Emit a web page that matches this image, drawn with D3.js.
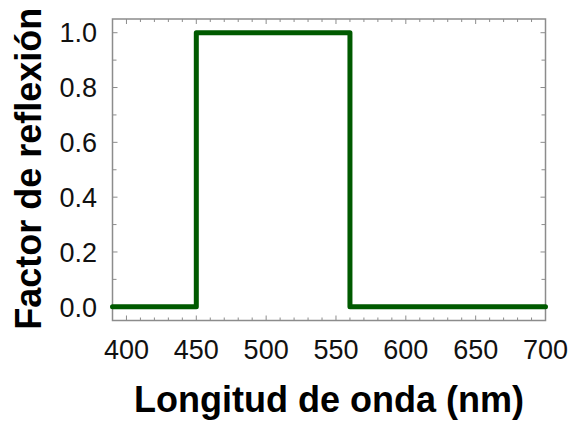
<!DOCTYPE html>
<html>
<head>
<meta charset="utf-8">
<script src="https://cdn.jsdelivr.net/npm/d3@7"></script>
<style>
  html, body { margin: 0; padding: 0; background: #fff; }
  svg { display: block; }
</style>
</head>
<body>
<svg id="chart" width="573" height="422"></svg>
<script>
// Data
const wavelength = [390, 450, 450, 560, 560, 700];
const reflectance = [0, 0, 1, 1, 0, 0];
const xTickLabels = [400, 450, 500, 550, 600, 650, 700];
const yTickLabels = [0.0, 0.2, 0.4, 0.6, 0.8, 1.0];
const xTitle = "Longitud de onda (nm)";
const yTitle = "Factor de reflexión";

const svg = d3.select("#chart");
const m = { left: 112.5, right: 545.5, top: 19, bottom: 320.5 };
const x = d3.scaleLinear().domain([390, 700]).range([m.left, m.right]);
const y = d3.scaleLinear().domain([-0.05, 1.05]).range([m.bottom, m.top]);

const frameColor = "#8c8c8c";
const xMinor = d3.range(400, 701, 10);
const yMinor = d3.range(0, 11).map(i => i / 10);

// tick marks (inward), all four sides
const tg = svg.append("g").attr("stroke", frameColor).attr("stroke-width", 1);
xMinor.forEach(v => {
  const len = v % 50 === 0 ? 5 : 3;
  tg.append("line").attr("x1", x(v)).attr("x2", x(v)).attr("y1", m.bottom).attr("y2", m.bottom - len);
  tg.append("line").attr("x1", x(v)).attr("x2", x(v)).attr("y1", m.top).attr("y2", m.top + len);
});
yMinor.forEach(v => {
  const len = Math.round(v * 10) % 2 === 0 ? 5 : 4;
  tg.append("line").attr("x1", m.left).attr("x2", m.left + len).attr("y1", y(v)).attr("y2", y(v));
  tg.append("line").attr("x1", m.right).attr("x2", m.right - len).attr("y1", y(v)).attr("y2", y(v));
});

// frame
svg.append("rect")
  .attr("x", m.left).attr("y", m.top)
  .attr("width", m.right - m.left).attr("height", m.bottom - m.top)
  .attr("fill", "none").attr("stroke", frameColor).attr("stroke-width", 1.5);

// tick labels
svg.append("g").selectAll("text").data(xTickLabels).join("text")
  .attr("x", d => x(d)).attr("y", 359)
  .attr("text-anchor", "middle")
  .attr("font-family", "Liberation Sans, Arial, sans-serif")
  .attr("font-size", 27).attr("fill", "#111")
  .text(d => d);

svg.append("g").selectAll("text").data(yTickLabels).join("text")
  .attr("x", 97).attr("y", d => y(d))
  .attr("dy", "0.36em")
  .attr("text-anchor", "end")
  .attr("font-family", "Liberation Sans, Arial, sans-serif")
  .attr("font-size", 27).attr("fill", "#111")
  .text(d => d.toFixed(1));

// axis titles
svg.append("text")
  .attr("x", (m.left + m.right) / 2).attr("y", 412)
  .attr("text-anchor", "middle")
  .attr("font-family", "Liberation Sans, Arial, sans-serif")
  .attr("font-weight", "bold").attr("font-size", 36).attr("fill", "#000")
  .text(xTitle);

svg.append("text")
  .attr("transform", `translate(41,${(m.top + m.bottom) / 2 - 1}) rotate(-90)`)
  .attr("text-anchor", "middle")
  .attr("font-family", "Liberation Sans, Arial, sans-serif")
  .attr("font-weight", "bold").attr("font-size", 36).attr("fill", "#000")
  .text(yTitle);

// data line
const pts = wavelength.map((w, i) => [w, reflectance[i]]);
svg.append("path")
  .datum(pts)
  .attr("d", d3.line().x(d => x(d[0])).y(d => y(d[1])))
  .attr("fill", "none")
  .attr("stroke", "#005a00")
  .attr("stroke-width", 5)
  .attr("stroke-linejoin", "round")
  .attr("stroke-linecap", "round");
</script>
</body>
</html>
